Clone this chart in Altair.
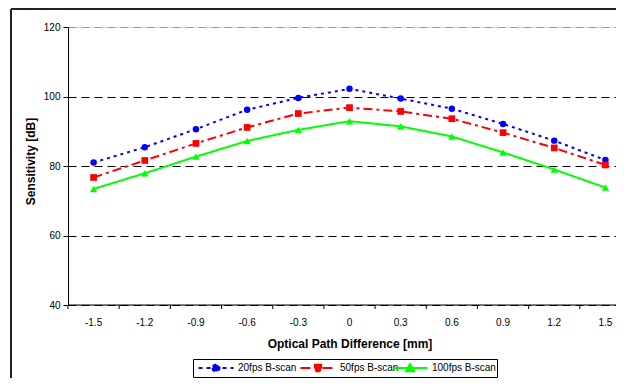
import altair as alt
import pandas as pd

opd = ["-1.5", "-1.2", "-0.9", "-0.6", "-0.3", "0", "0.3", "0.6", "0.9", "1.2", "1.5"]
series = ["20fps B-scan", "50fps B-scan", "100fps B-scan"]
s20 = [81.0, 85.4, 90.6, 96.2, 99.6, 102.2, 99.4, 96.5, 92.1, 87.3, 81.7]
s50 = [76.7, 81.6, 86.5, 91.1, 95.1, 96.8, 95.7, 93.6, 89.6, 85.2, 80.3]
s100 = [73.4, 77.9, 82.7, 87.2, 90.4, 92.9, 91.4, 88.5, 83.9, 79.0, 73.8]
y_ticks = [40, 60, 80, 100, 120]

colors = ["#0000FF", "#FF0000", "#00FF00"]
dashes = [[3, 4], [9, 4, 3, 4], [1, 0]]
legend_dashes = [[4, 4], [10, 4, 4, 4], [1, 0]]
shapes = ["circle", "square", "triangle-up"]
marker_sizes = [42, 45, 55]
legend_paths = [
    "M-1,0H9M3,0A1,1,0,1,0,5,0A1,1,0,1,0,3,0Z",
    "M-1,0H9M3.1,-0.9H4.9V0.9H3.1Z",
    "M-1,0H9M4,-1.1L5.15,0.9H2.85Z",
]
legend_x = [129, 231, 323]

rows = []
for name, vals in zip(series, [s20, s50, s100]):
    for o, v in zip(opd, vals):
        rows.append({"opd": o, "val": v, "series": name})
df = pd.DataFrame(rows)

FONT = "Liberation Sans"
W, H = 548, 278
PB = 73

x_scale = alt.Scale(type="band", domain=opd, range=[0, 563], paddingInner=0, paddingOuter=0)
x_axis = alt.Axis(
    ticks=False, domain=False, labelAngle=0, labelPadding=12, labelFontSize=10,
    labelFont=FONT, labelColor="black",
    grid=False, title="Optical Path Difference [mm]", titleFont=FONT, titleFontSize=12,
    titleFontWeight="bold", titleColor="black", titlePadding=11,
)
x_enc = alt.X("opd:N", sort=opd, scale=x_scale, axis=x_axis)
y_enc = alt.Y(
    "val:Q",
    scale=alt.Scale(domain=[40, 120], nice=False, zero=False),
    axis=alt.Axis(
        values=y_ticks, grid=True, gridDash=[8, 5],
        gridColor=alt.condition("datum.value == 120", alt.value("#999999"), alt.value("black")),
        tickSize=5, tickColor="black", domainColor="black", labelFontSize=10, labelFont=FONT,
        labelColor="black", labelPadding=3, title="Sensitivity [dB]", titleFont=FONT,
        titleFontSize=12, titleFontWeight="bold", titleColor="black", titlePadding=6, titleY=134,
    ),
)

base = alt.Chart(df).encode(x=x_enc, y=y_enc)

one = pd.DataFrame({"a": [0]})
frame_left = alt.Chart(one).mark_rule(color="#222222", strokeWidth=2).encode(
    x=alt.value(-57), y=alt.value(-18), y2=alt.value(H + PB)
)
frame_top = alt.Chart(one).mark_rule(color="#222222", strokeWidth=2).encode(
    x=alt.value(-57), x2=alt.value(W), y=alt.value(-18)
)
x_domain = alt.Chart(one).mark_rule(color="black", strokeWidth=1).encode(
    x=alt.value(0), x2=alt.value(W), y=alt.value(H)
)
x_ticks = alt.Chart(pd.DataFrame({"opd": opd})).mark_rule(color="black", strokeWidth=1).encode(
    x=alt.X("opd:N", sort=opd, scale=x_scale, bandPosition=0, axis=x_axis),
    y=alt.value(H), y2=alt.value(H + 4),
)

col_scale = alt.Scale(domain=series, range=colors)
dash_scale = alt.Scale(domain=series, range=dashes)

lines = base.mark_line(strokeWidth=2).encode(
    color=alt.Color("series:N", scale=col_scale, legend=None),
    strokeDash=alt.StrokeDash("series:N", scale=dash_scale, legend=None),
)
point_layers = [
    base.transform_filter(alt.datum.series == name).mark_point(
        filled=True, opacity=1, size=sz, shape=shp
    ).encode(color=alt.Color("series:N", scale=col_scale, legend=None))
    for name, shp, sz in zip(series, shapes, marker_sizes)
]

legend_box = alt.Chart(one).mark_rect(fill="white", stroke="black", strokeWidth=1).encode(
    x=alt.value(125.5), x2=alt.value(429.5), y=alt.value(332.5), y2=alt.value(350.5)
)

legend_layers = []
for name, col, path, dsh, lx in zip(series, colors, legend_paths, legend_dashes, legend_x):
    leg = alt.Legend(
        title=None, orient="none", legendX=lx, legendY=336, padding=0,
        labelFont=FONT, labelFontSize=10, labelColor="black", labelOffset=31,
        symbolSize=49, symbolStrokeWidth=2, symbolType=path,
        symbolStrokeColor=col, symbolFillColor=col, symbolDash=dsh, symbolOpacity=1,
    )
    legend_layers.append(
        base.transform_filter("false").mark_point(filled=True, size=49, opacity=1).encode(
            color=alt.Color("series:N", scale=alt.Scale(domain=[name], range=[col]), legend=leg)
        )
    )

chart = alt.layer(
    frame_left, frame_top, lines, *point_layers, x_domain, x_ticks, legend_box, *legend_layers
).resolve_scale(color="independent").properties(
    width=W, height=H,
    autosize=alt.AutoSizeParams(type="none"),
    padding={"left": 60, "top": 19, "right": 0, "bottom": PB},
).configure_view(stroke=None).configure(font=FONT)

chart.save("out.html", embed_options={"renderer": "svg", "actions": False})
